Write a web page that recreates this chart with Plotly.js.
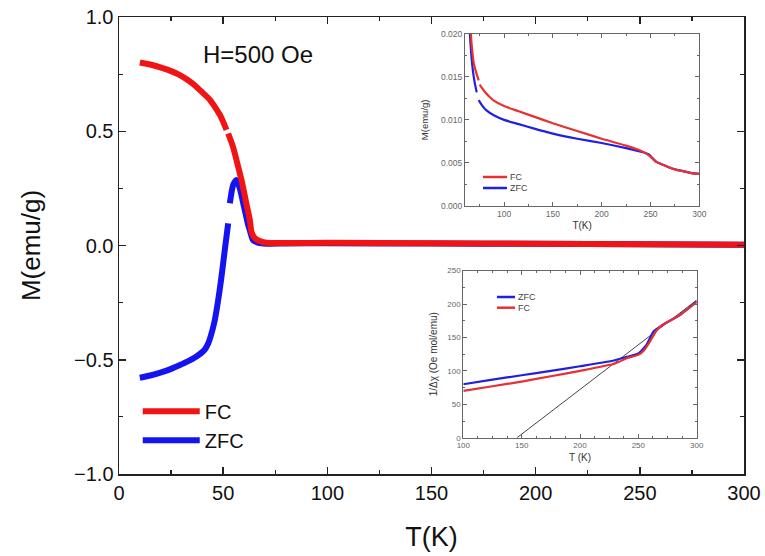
<!DOCTYPE html>
<html>
<head>
<meta charset="utf-8">
<script src="https://cdn.plot.ly/plotly-3.0.1.min.js"></script>
<style>html,body{margin:0;padding:0;background:#fff;}#chart{width:765px;height:556px;}</style>
</head>
<body>
<div id="chart"></div>
<script>
// ---- Main panel data (M vs T, H = 500 Oe) ----
const mainFC_T = [10, 15, 21, 25, 29, 33, 37, 40, 43.6, 46, 48.4, 50, 51.6, null, 52.4, 54.7, 56.5, 58.8, 61, 62.8, 63.6, 65.2, 68, 70.8, 80, 100, 150, 200, 250, 300];
const mainFC_M = [0.801, 0.792, 0.776, 0.763, 0.747, 0.724, 0.696, 0.670, 0.638, 0.607, 0.572, 0.541, 0.506, null, 0.49, 0.433, 0.37, 0.287, 0.19, 0.112, 0.06, 0.032, 0.018, 0.012, 0.011, 0.0116, 0.0095, 0.0078, 0.0057, 0.0037];
const mainZFC_T = [10, 15, 21, 25, 29, 33, 37, 41.2, 42.8, 44.4, 46, 47.6, 49, 50.5, 52.4, null, 53.2, 54.8, 56.4, 58, 59.5, 61, 62, 62.7, 64.3, 67, 70.8, 80, 100, 150, 200, 250, 300];
const mainZFC_M = [-0.579, -0.569, -0.553, -0.54, -0.524, -0.507, -0.487, -0.455, -0.429, -0.385, -0.326, -0.239, -0.15, -0.04, 0.097, null, 0.185, 0.265, 0.287, 0.25, 0.19, 0.13, 0.09, 0.07, 0.024, 0.012, 0.008, 0.009, 0.010, 0.0084, 0.0073, 0.006, 0.0037];

// ---- Inset 1 data (M vs T, zoom of high-T region) ----
const in1FC_T = [66, 67, 69, 72, 74, null, 75, 80, 85, 90, 100, 115, 130, 150, 175, 200, 225, 240, 248, 256, 262, 268, 276, 284, 292, 300];
const in1FC_M = [0.020, 0.0185, 0.0166, 0.0153, 0.0146, null, 0.0141, 0.0133, 0.0127, 0.0122, 0.0116, 0.0110, 0.0104, 0.0096, 0.0087, 0.0078, 0.0070, 0.0064, 0.0059, 0.0051, 0.0048, 0.0045, 0.0042, 0.0040, 0.0038, 0.0037];
const in1ZFC_T = [65, 66.5, 68, 70, 72, null, 74, 78, 82, 90, 100, 115, 130, 150, 175, 200, 225, 240, 248, 256, 262, 268, 276, 284, 292, 300];
const in1ZFC_M = [0.020, 0.0175, 0.0158, 0.0143, 0.0132, null, 0.0123, 0.0116, 0.0111, 0.0105, 0.0100, 0.0095, 0.0090, 0.0084, 0.0078, 0.0073, 0.0067, 0.0063, 0.0060, 0.0051, 0.0048, 0.0045, 0.0042, 0.0040, 0.0038, 0.0037];

// ---- Inset 2 data (1/Δχ vs T) ----
const in2ZFC_T = [100, 125, 150, 175, 200, 230, 240, 250, 257, 263, 271, 286, 300];
const in2ZFC_V = [80, 87, 93.5, 100, 107, 116, 121, 126, 139, 159, 169, 184, 204];
const in2FC_T = [100, 125, 150, 175, 200, 230, 240, 250, 255, 260, 265, 270, 285, 300];
const in2FC_V = [70, 77, 84, 92, 100, 111, 119, 124, 131, 144, 159, 168, 183, 203];
const fitLine_T = [146, 300];
const fitLine_V = [0, 206];

// legend labels of the insets
const inset1Labels = ['FC', 'ZFC'];
const inset2Labels = ['ZFC', 'FC'];

const RED = '#f01414';
const BLUE = '#1414f0';
const RED2 = '#e83030';
const BLUE2 = '#2020e0';
const FONT = 'Liberation Sans, Arial, sans-serif';

const traces = [
  {x: mainZFC_T, y: mainZFC_M, mode: 'lines', name: 'ZFC', line: {color: BLUE, width: 6, shape: 'spline', smoothing: 0.6}, legendrank: 2, xaxis: 'x', yaxis: 'y'},
  {x: mainFC_T, y: mainFC_M, mode: 'lines', name: 'FC', line: {color: RED, width: 6, shape: 'spline', smoothing: 0.6}, legendrank: 1, xaxis: 'x', yaxis: 'y'},
  {x: in1ZFC_T, y: in1ZFC_M, mode: 'lines', showlegend: false, line: {color: BLUE2, width: 2.2, shape: 'spline', smoothing: 0.5}, xaxis: 'x2', yaxis: 'y2'},
  {x: in1FC_T, y: in1FC_M, mode: 'lines', showlegend: false, line: {color: RED2, width: 2.2, shape: 'spline', smoothing: 0.5}, xaxis: 'x2', yaxis: 'y2'},
  {x: fitLine_T, y: fitLine_V, mode: 'lines', showlegend: false, line: {color: '#444', width: 1}, xaxis: 'x3', yaxis: 'y3'},
  {x: in2ZFC_T, y: in2ZFC_V, mode: 'lines', showlegend: false, line: {color: BLUE2, width: 2.2, shape: 'spline', smoothing: 0.5}, xaxis: 'x3', yaxis: 'y3'},
  {x: in2FC_T, y: in2FC_V, mode: 'lines', showlegend: false, line: {color: RED2, width: 2.2, shape: 'spline', smoothing: 0.5}, xaxis: 'x3', yaxis: 'y3'}
];

const insetAxis = {
  showline: true, linecolor: '#666', linewidth: 1, mirror: 'ticks',
  ticks: 'inside', ticklen: 4, tickcolor: '#666', tickwidth: 1,
  showgrid: false, zeroline: false,
  tickfont: {family: FONT, size: 8.5, color: '#666'}
};

// manual inset legends (paper coordinates)
const legItems = [
  {label: inset1Labels[0], color: RED2, x0: 0.5824, x1: 0.6208, y: 0.6499},
  {label: inset1Labels[1], color: BLUE2, x0: 0.5824, x1: 0.6208, y: 0.6258},
  {label: inset2Labels[0], color: BLUE2, x0: 0.6048, x1: 0.6336, y: 0.3873},
  {label: inset2Labels[1], color: RED2, x0: 0.6048, x1: 0.6336, y: 0.3639}
];
const shapes = legItems.map(it => ({type: 'line', xref: 'paper', yref: 'paper', x0: it.x0, x1: it.x1, y0: it.y, y1: it.y, line: {color: it.color, width: 2.5}}));
const legAnn = legItems.map(it => ({text: it.label, xref: 'paper', yref: 'paper', x: it.x1 + 0.001, y: it.y, xanchor: 'left', yanchor: 'middle', showarrow: false, font: {family: FONT, size: 9, color: '#444'}}));

const layout = {
  width: 765, height: 556,
  margin: {l: 119, r: 21, t: 17, b: 82},
  paper_bgcolor: '#fff', plot_bgcolor: 'rgba(0,0,0,0)',
  font: {family: FONT, color: '#111'},
  showlegend: true,
  xaxis: {
    domain: [0, 1], range: [0, 300], dtick: 50, tick0: 0,
    showline: true, linecolor: '#222', linewidth: 1.5, mirror: 'ticks',
    ticks: 'inside', ticklen: 7, tickwidth: 1.5, tickcolor: '#222',
    minor: {ticks: 'inside', dtick: 25, ticklen: 4, tickwidth: 1.2, tickcolor: '#222'},
    showgrid: false, zeroline: false,
    tickfont: {family: FONT, size: 20, color: '#111'},
    title: {text: 'T(K)', font: {family: FONT, size: 27, color: '#111'}, standoff: 24}
  },
  yaxis: {
    domain: [0, 1], range: [-1, 1], dtick: 0.5, tick0: 0, tickformat: '.1f',
    showline: true, linecolor: '#222', linewidth: 1.5, mirror: 'ticks',
    ticks: 'inside', ticklen: 7, tickwidth: 1.5, tickcolor: '#222',
    minor: {ticks: 'inside', dtick: 0.25, ticklen: 4, tickwidth: 1.2, tickcolor: '#222'},
    showgrid: false, zeroline: false,
    tickfont: {family: FONT, size: 20, color: '#111'},
    title: {text: 'M(emu/g)', font: {family: FONT, size: 26, color: '#111'}, standoff: 26}
  },
  xaxis2: Object.assign({}, insetAxis, {
    domain: [0.5536, 0.9285], anchor: 'y2', range: [60, 300], tickvals: [100, 150, 200, 250, 300],
    minor: {ticks: 'inside', ticklen: 2, tickcolor: '#666', dtick: 25, tick0: 0},
    title: {text: 'T(K)', font: {family: FONT, size: 10, color: '#333'}, standoff: 4}
  }),
  yaxis2: Object.assign({}, insetAxis, {
    domain: [0.5871, 0.9628], anchor: 'x2', range: [0, 0.020], dtick: 0.005, tickformat: '.3f',
    minor: {ticks: 'inside', ticklen: 2, tickcolor: '#666', dtick: 0.0025},
    title: {text: 'M(emu/g)', font: {family: FONT, size: 9.5, color: '#333'}, standoff: 10}
  }),
  xaxis3: Object.assign({}, insetAxis, {
    domain: [0.5509, 0.9243], anchor: 'y3', range: [100, 300], dtick: 50,
    tickfont: {family: FONT, size: 8, color: '#666'},
    minor: {ticks: 'inside', ticklen: 2, tickcolor: '#666', dtick: 12.5},
    title: {text: 'T (K)', font: {family: FONT, size: 10, color: '#333'}, standoff: 4}
  }),
  yaxis3: Object.assign({}, insetAxis, {
    domain: [0.0794, 0.4449], anchor: 'x3', range: [0, 250], dtick: 50,
    tickfont: {family: FONT, size: 8, color: '#666'},
    minor: {ticks: 'inside', ticklen: 2, tickcolor: '#666', dtick: 25},
    title: {text: '1/Δχ (Oe mol/emu)', font: {family: FONT, size: 10, color: '#333'}, standoff: 7}
  }),
  legend: {
    x: 0.03, y: 0.18, xanchor: 'left', yanchor: 'top',
    bgcolor: 'rgba(0,0,0,0)', font: {family: FONT, size: 20, color: '#111'},
    itemwidth: 57, tracegroupgap: 0
  },
  shapes: shapes,
  annotations: [
    {text: 'H=500 Oe', xref: 'paper', yref: 'paper', x: 0.222, y: 0.918, xanchor: 'center', yanchor: 'middle',
     showarrow: false, font: {family: FONT, size: 24, color: '#111'}}
  ].concat(legAnn)
};

Plotly.newPlot('chart', traces, layout, {staticPlot: true, displayModeBar: false});
</script>
</body>
</html>
